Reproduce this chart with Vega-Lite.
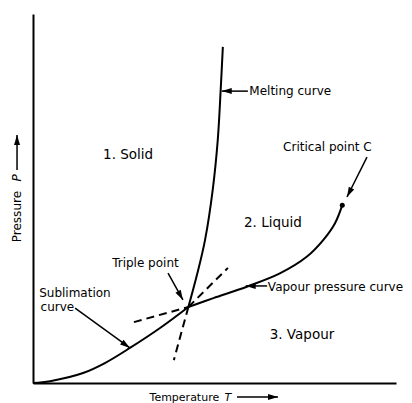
{
  "$schema": "https://vega.github.io/schema/vega-lite/v6.json",
  "width": 363,
  "height": 369,
  "autosize": {"type": "none"},
  "padding": {"left": 33, "top": 14, "right": 16, "bottom": 20},
  "background": "white",
  "config": {
    "view": {"stroke": null},
    "axis": {"domainColor": "black", "domainWidth": 2, "ticks": false, "labels": false, "grid": false, "title": null},
    "text": {"font": "DejaVu Sans", "color": "black"}
  },
  "datasets": {
    "curves": [
      {"curve": "sublimation", "i": 0, "T": 0, "P": 0},
      {"curve": "sublimation", "i": 1, "T": 4.7, "P": 0.5},
      {"curve": "sublimation", "i": 2, "T": 13.8, "P": 2.7},
      {"curve": "sublimation", "i": 3, "T": 19.8, "P": 5.4},
      {"curve": "sublimation", "i": 4, "T": 26.7, "P": 9.5},
      {"curve": "sublimation", "i": 5, "T": 35.0, "P": 14.9},
      {"curve": "sublimation", "i": 6, "T": 42.8, "P": 20.6},
      {"curve": "melting", "i": 0, "T": 42.8, "P": 20.6},
      {"curve": "melting", "i": 1, "T": 45.3, "P": 29.8},
      {"curve": "melting", "i": 2, "T": 47.4, "P": 38.8},
      {"curve": "melting", "i": 3, "T": 49.5, "P": 52.3},
      {"curve": "melting", "i": 4, "T": 50.9, "P": 65.9},
      {"curve": "melting", "i": 5, "T": 51.7, "P": 79.4},
      {"curve": "melting", "i": 6, "T": 52.3, "P": 91.1},
      {"curve": "vapour", "i": 0, "T": 42.8, "P": 20.6},
      {"curve": "vapour", "i": 1, "T": 49.7, "P": 23.0},
      {"curve": "vapour", "i": 2, "T": 58.9, "P": 26.1},
      {"curve": "vapour", "i": 3, "T": 68.0, "P": 29.7},
      {"curve": "vapour", "i": 4, "T": 75.4, "P": 34.2},
      {"curve": "vapour", "i": 5, "T": 80.0, "P": 38.8},
      {"curve": "vapour", "i": 6, "T": 83.2, "P": 43.3},
      {"curve": "vapour", "i": 7, "T": 85.2, "P": 48.2}
    ],
    "dashes": [
      {"T": 27.8, "P": 16.5, "T2": 42.8, "P2": 20.6},
      {"T": 42.8, "P": 20.6, "T2": 53.7, "P2": 31.2},
      {"T": 42.8, "P": 20.6, "T2": 38.8, "P2": 6.2}
    ],
    "critical": [{"T": 85.2, "P": 48.2}],
    "arrows": [
      {"name": "melting", "T": 59.2, "P": 79.1, "T2": 52.0, "P2": 79.1},
      {"name": "critical", "T": 92.0, "P": 61.2, "T2": 86.5, "P2": 50.4},
      {"name": "triple", "T": 37.2, "P": 29.8, "T2": 41.3, "P2": 22.5},
      {"name": "sublimation", "T": 11.6, "P": 20.3, "T2": 26.7, "P2": 9.5},
      {"name": "vapour", "T": 64.5, "P": 26.3, "T2": 58.6, "P2": 26.3},
      {"name": "yaxis", "T": -4.4, "P": 57.7, "T2": -4.4, "P2": 67.2},
      {"name": "xaxis", "T": 56.2, "P": -3.8, "T2": 67.5, "P2": -3.8}
    ],
    "regions": [
      {"label": "1. Solid", "T": 26.2, "P": 61.8},
      {"label": "2. Liquid", "T": 66.1, "P": 43.4},
      {"label": "3. Vapour", "T": 74.1, "P": 13.0}
    ],
    "notes": [
      {"label": "Melting curve", "T": 59.6, "P": 79.1},
      {"label": "Critical point C", "T": 68.9, "P": 64.0},
      {"label": "Triple point", "T": 21.8, "P": 32.5},
      {"label": "Sublimation", "T": 1.7, "P": 24.4},
      {"label": "curve", "T": 2.1, "P": 20.6},
      {"label": "Vapour pressure curve", "T": 64.7, "P": 26.0}
    ]
  },
  "layer": [
    {
      "data": {"name": "curves"},
      "mark": {"type": "line", "interpolate": "catmull-rom", "color": "black", "strokeWidth": 2},
      "encoding": {
        "x": {"field": "T", "type": "quantitative", "scale": {"domain": [0, 100]}, "axis": {"orient": "bottom"}},
        "y": {"field": "P", "type": "quantitative", "scale": {"domain": [0, 100]}, "axis": {"orient": "left"}},
        "detail": {"field": "curve"},
        "order": {"field": "i"}
      }
    },
    {
      "data": {"name": "dashes"},
      "mark": {"type": "rule", "color": "black", "strokeWidth": 2, "strokeDash": [8, 5]},
      "encoding": {
        "x": {"field": "T", "type": "quantitative"},
        "y": {"field": "P", "type": "quantitative"},
        "x2": {"field": "T2"},
        "y2": {"field": "P2"}
      }
    },
    {
      "data": {"name": "critical"},
      "mark": {"type": "point", "filled": true, "color": "black", "size": 25, "opacity": 1},
      "encoding": {
        "x": {"field": "T", "type": "quantitative"},
        "y": {"field": "P", "type": "quantitative"}
      }
    },
    {
      "data": {"name": "arrows"},
      "mark": {"type": "rule", "color": "black", "strokeWidth": 1.5},
      "encoding": {
        "x": {"field": "T", "type": "quantitative"},
        "y": {"field": "P", "type": "quantitative"},
        "x2": {"field": "T2"},
        "y2": {"field": "P2"}
      }
    },
    {
      "data": {"name": "arrows"},
      "transform": [
        {"calculate": "(atan2((datum.T2 - datum.T) * 3.63, (datum.P2 - datum.P) * 3.69) * 180 / PI + 360) % 360", "as": "dir"}
      ],
      "mark": {"type": "point", "filled": true, "color": "black", "opacity": 1, "size": 400, "shape": "M0,0L-0.3,1L0.3,1Z", "strokeWidth": 0},
      "encoding": {
        "x": {"field": "T2", "type": "quantitative"},
        "y": {"field": "P2", "type": "quantitative"},
        "angle": {"field": "dir", "type": "quantitative", "scale": null}
      }
    },
    {
      "data": {"name": "regions"},
      "mark": {"type": "text", "fontSize": 13.5, "align": "center", "baseline": "middle"},
      "encoding": {
        "x": {"field": "T", "type": "quantitative"},
        "y": {"field": "P", "type": "quantitative"},
        "text": {"field": "label"}
      }
    },
    {
      "data": {"name": "notes"},
      "mark": {"type": "text", "fontSize": 12, "align": "left", "baseline": "middle"},
      "encoding": {
        "x": {"field": "T", "type": "quantitative"},
        "y": {"field": "P", "type": "quantitative"},
        "text": {"field": "label"}
      }
    },
    {
      "data": {"values": [{"label": "Pressure", "T": -4.4, "P": 45.1}]},
      "mark": {"type": "text", "fontSize": 12, "align": "center", "baseline": "middle", "angle": 270},
      "encoding": {
        "x": {"field": "T", "type": "quantitative"},
        "y": {"field": "P", "type": "quantitative"},
        "text": {"field": "label"}
      }
    },
    {
      "data": {"values": [{"label": "P", "T": -4.4, "P": 55.6}]},
      "mark": {"type": "text", "fontSize": 12, "fontStyle": "italic", "align": "center", "baseline": "middle", "angle": 270},
      "encoding": {
        "x": {"field": "T", "type": "quantitative"},
        "y": {"field": "P", "type": "quantitative"},
        "text": {"field": "label"}
      }
    },
    {
      "data": {"values": [{"label": "Temperature", "T": 41.7, "P": -4.2}]},
      "mark": {"type": "text", "fontSize": 11, "align": "center", "baseline": "middle"},
      "encoding": {
        "x": {"field": "T", "type": "quantitative"},
        "y": {"field": "P", "type": "quantitative"},
        "text": {"field": "label"}
      }
    },
    {
      "data": {"values": [{"label": "T", "T": 53.7, "P": -4.2}]},
      "mark": {"type": "text", "fontSize": 11, "fontStyle": "italic", "align": "center", "baseline": "middle"},
      "encoding": {
        "x": {"field": "T", "type": "quantitative"},
        "y": {"field": "P", "type": "quantitative"},
        "text": {"field": "label"}
      }
    }
  ]
}
